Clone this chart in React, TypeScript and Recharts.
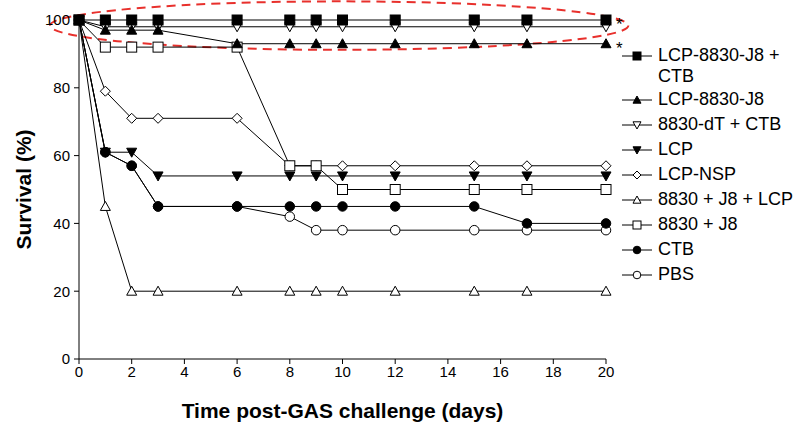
import React from 'react'
import {
  LineChart,
  Line,
  XAxis,
  YAxis,
  Legend,
  Label,
  ReferenceArea,
} from 'recharts'

const days = [0, 1, 2, 3, 6, 8, 9, 10, 12, 15, 17, 20]

const lcp8830J8Ctb = [100, 100, 100, 100, 100, 100, 100, 100, 100, 100, 100, 100]
const lcp8830J8 = [100, 97, 97, 97, 93, 93, 93, 93, 93, 93, 93, 93]
const dtCtb = [100, 98, 98, 98, 98, 98, 98, 98, 98, 98, 98, 98]
const lcp = [100, 61, 61, 54, 54, 54, 54, 54, 54, 54, 54, 54]
const lcpNsp = [100, 79, 71, 71, 71, 57, 57, 57, 57, 57, 57, 57]
const j8Lcp = [100, 45, 20, 20, 20, 20, 20, 20, 20, 20, 20, 20]
const j8 = [100, 92, 92, 92, 92, 57, 57, 50, 50, 50, 50, 50]
const ctb = [100, 61, 57, 45, 45, 45, 45, 45, 45, 45, 40, 40]
const pbs = [100, 61, 57, 45, 45, 42, 38, 38, 38, 38, 38, 38]

const xTicks = [0, 2, 4, 6, 8, 10, 12, 14, 16, 18, 20]
const yTicks = [0, 20, 40, 60, 80, 100]

type Shape = 'square' | 'triUp' | 'triDown' | 'diamond' | 'circle'

interface SeriesDef {
  key: string
  name: string
  values: number[]
  shape: Shape
  filled: boolean
  star?: boolean
}

// legend order
const series: SeriesDef[] = [
  { key: 's1', name: 'LCP-8830-J8 + CTB', values: lcp8830J8Ctb, shape: 'square', filled: true, star: true },
  { key: 's2', name: 'LCP-8830-J8', values: lcp8830J8, shape: 'triUp', filled: true, star: true },
  { key: 's3', name: '8830-dT + CTB', values: dtCtb, shape: 'triDown', filled: false },
  { key: 's4', name: 'LCP', values: lcp, shape: 'triDown', filled: true },
  { key: 's5', name: 'LCP-NSP', values: lcpNsp, shape: 'diamond', filled: false },
  { key: 's6', name: '8830 + J8 + LCP', values: j8Lcp, shape: 'triUp', filled: false },
  { key: 's7', name: '8830 + J8', values: j8, shape: 'square', filled: false },
  { key: 's8', name: 'CTB', values: ctb, shape: 'circle', filled: true },
  { key: 's9', name: 'PBS', values: pbs, shape: 'circle', filled: false },
]

// draw order (later = on top)
const drawOrder = ['s9', 's6', 's5', 's7', 's4', 's8', 's3', 's2', 's1']

const data = days.map((d, i) => {
  const row: Record<string, number> = { day: d }
  series.forEach((s) => {
    row[s.key] = s.values[i]
  })
  return row
})

const FONT = 'Arial, "Liberation Sans", Helvetica, sans-serif'

function Marker({ cx, cy, shape, filled, size }: { cx: number; cy: number; shape: Shape; filled: boolean; size: number }) {
  const fill = filled ? '#000' : '#fff'
  const h = size / 2
  const common = { fill, stroke: '#000', strokeWidth: 1 }
  if (shape === 'square') return <rect x={cx - h} y={cy - h} width={size} height={size} {...common} />
  if (shape === 'circle') return <circle cx={cx} cy={cy} r={h * 0.95} {...common} />
  if (shape === 'diamond')
    return <polygon points={`${cx},${cy - h} ${cx + h},${cy} ${cx},${cy + h} ${cx - h},${cy}`} {...common} />
  if (shape === 'triUp')
    return <polygon points={`${cx},${cy - h} ${cx + h},${cy + h * 0.8} ${cx - h},${cy + h * 0.8}`} {...common} />
  return <polygon points={`${cx - h},${cy - h * 0.8} ${cx + h},${cy - h * 0.8} ${cx},${cy + h}`} {...common} />
}

function LegendBox() {
  return (
    <div style={{ fontFamily: FONT, fontSize: 18, color: '#000', width: 175 }}>
      {series.map((s, i) => (
        <div
          key={s.key}
          style={{ display: 'flex', alignItems: 'flex-start', height: i === 0 ? 44 : 25, lineHeight: '21px' }}
        >
          <svg width={34} height={21} style={{ flex: 'none' }}>
            <line x1={2} y1={11} x2={32} y2={11} stroke="#000" strokeWidth={1} />
            <Marker cx={17} cy={11} shape={s.shape} filled={s.filled} size={8} />
          </svg>
          <span style={{ marginLeft: 4, width: 137 }}>{s.name}</span>
        </div>
      ))}
    </div>
  )
}

function EllipseShape(props: any) {
  const { x, y, width, height } = props
  return (
    <ellipse
      cx={x + width / 2}
      cy={y + height / 2}
      rx={Math.abs(width) / 2}
      ry={Math.abs(height) / 2}
      fill="none"
      stroke="#e8302c"
      strokeWidth={2}
      strokeDasharray="9 6"
    />
  )
}

export default function App() {
  return (
    <div style={{ position: 'absolute', left: 0, top: 0, width: 795, height: 424, background: '#fff' }}>
      <LineChart width={795} height={424} data={data} margin={{ top: 20, right: 14, left: 0, bottom: 0 }}>
        <XAxis
          dataKey="day"
          type="number"
          domain={[0, 20]}
          ticks={xTicks}
          height={65}
          tickSize={5}
          tickMargin={2}
          stroke="#000"
          tick={{ fill: '#000', fontSize: 15, fontFamily: FONT }}
        >
          <Label
            value="Time post-GAS challenge (days)"
            position="insideBottom"
            offset={6}
            style={{ fontSize: 21, fontWeight: 'bold', fontFamily: FONT, fill: '#000' }}
          />
        </XAxis>
        <YAxis
          type="number"
          domain={[0, 100]}
          ticks={yTicks}
          width={79}
          tickSize={5}
          tickMargin={4}
          stroke="#000"
          tick={{ fill: '#000', fontSize: 15, fontFamily: FONT }}
        >
          <Label
            value="Survival (%)"
            angle={-90}
            position="center"
            dx={-16}
            style={{ fontSize: 21, fontWeight: 'bold', fontFamily: FONT, fill: '#000', textAnchor: 'middle' }}
          />
        </YAxis>
        <Legend
          layout="vertical"
          verticalAlign="top"
          align="right"
          content={() => <LegendBox />}
          wrapperStyle={{ left: 620, top: 45, width: 175 }}
        />
        {drawOrder.map((k) => {
          const s = series.find((x) => x.key === k) as SeriesDef
          return (
            <Line
              key={s.key}
              dataKey={s.key}
              name={s.name}
              stroke="#000"
              strokeWidth={1}
              isAnimationActive={false}
              legendType="none"
              dot={(p: any) => (
                <Marker key={`${s.key}-${p.index}`} cx={p.cx} cy={p.cy} shape={s.shape} filled={s.filled} size={10} />
              )}
              label={(p: any) =>
                s.star && p.index === days.length - 1 ? (
                  <text key={`${s.key}-star`} x={p.x + 10} y={p.y + 10} fontSize={17} fontFamily={FONT} fill="#000">
                    *
                  </text>
                ) : (
                  <g key={`${s.key}-l${p.index}`} />
                )
              }
            />
          )
        })}
        <ReferenceArea x1={-1.1} x2={20.85} y1={105.5} y2={91.2} ifOverflow="visible" shape={<EllipseShape />} />
      </LineChart>
    </div>
  )
}
